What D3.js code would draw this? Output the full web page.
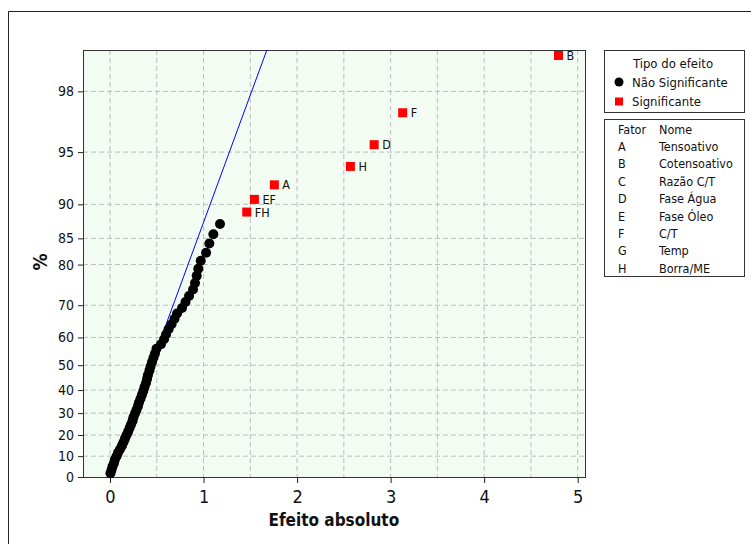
<!DOCTYPE html>
<html>
<head>
<meta charset="utf-8">
<script src="https://cdn.jsdelivr.net/npm/d3@7"></script>
<style>
  body { margin: 0; background: #fff; }
  text { font-family: "DejaVu Sans Condensed", "DejaVu Sans", sans-serif; font-stretch: condensed; fill: #111; }
</style>
</head>
<body>
<div id="chart"></div>
<script>
// half-normal plot of effects (Minitab style)
// ==============================

// non significant effects: absolute effect and plotted percent
var nsEffect = [0.005, 0.016, 0.027, 0.043, 0.053, 0.070, 0.086, 0.107, 0.128, 0.144,
  0.160, 0.176, 0.193, 0.209, 0.225, 0.241, 0.251, 0.267, 0.283, 0.299,
  0.310, 0.326, 0.342, 0.356, 0.369, 0.385, 0.396, 0.406, 0.422, 0.433,
  0.449, 0.465, 0.481, 0.497, 0.545, 0.578, 0.599, 0.626, 0.658, 0.690,
  0.717, 0.770, 0.807, 0.845, 0.888, 0.909, 0.927, 0.944, 0.970, 1.027,
  1.062, 1.105, 1.176];
var nsPercent = [1.8, 3.4, 5.1, 6.7, 8.4, 10.0, 11.7, 13.3, 15.0, 16.6,
  18.3, 19.9, 21.5, 23.2, 24.8, 26.5, 28.1, 29.8, 31.4, 33.1,
  34.7, 36.3, 38.0, 39.6, 41.3, 42.9, 44.6, 46.2, 47.9, 49.5,
  51.2, 52.8, 54.4, 56.1, 57.7, 59.4, 61.0, 62.7, 64.3, 66.0,
  67.6, 69.2, 70.9, 72.5, 74.2, 75.8, 77.5, 79.1, 80.8, 82.4,
  84.1, 85.7, 87.3];

// significant effects
var sigLabels = ["FH", "EF", "A", "H", "D", "F", "B"];
var sigEffect = [1.462, 1.544, 1.757, 2.570, 2.824, 3.129, 4.795];
var sigPercent = [89.0, 90.6, 92.2, 93.9, 95.5, 97.2, 98.9];

// reference line slope (effect per half-normal score)
var lineSlope = 0.651;

var xTicks = [0, 1, 2, 3, 4, 5];
var xGrid = [0, 0.5, 1, 1.5, 2, 2.5, 3, 3.5, 4, 4.5, 5];
var yTicks = [0, 10, 20, 30, 40, 50, 60, 70, 80, 85, 90, 95, 98];

var factors = ["A", "B", "C", "D", "E", "F", "G", "H"];
var factorNames = ["Tensoativo", "Cotensoativo", "Razão C/T", "Fase Água", "Fase Óleo", "C/T", "Temp", "Borra/ME"];

// inverse normal cdf (Acklam)
function qnorm(p) {
  var a = [-3.969683028665376e+01, 2.209460984245205e+02, -2.759285104469687e+02, 1.383577518672690e+02, -3.066479806614716e+01, 2.506628277459239e+00];
  var b = [-5.447609879822406e+01, 1.615858368580409e+02, -1.556989798598866e+02, 6.680131188771972e+01, -1.328068155288572e+01];
  var c = [-7.784894002430293e-03, -3.223964580411365e-01, -2.400758277161838e+00, -2.549732539343734e+00, 4.374664141464968e+00, 2.938163982698783e+00];
  var d = [7.784695709041462e-03, 3.224671290700398e-01, 2.445134137142996e+00, 3.754408661907416e+00];
  var q, r;
  if (p < 0.02425) {
    q = Math.sqrt(-2 * Math.log(p));
    return (((((c[0]*q+c[1])*q+c[2])*q+c[3])*q+c[4])*q+c[5]) / ((((d[0]*q+d[1])*q+d[2])*q+d[3])*q+1);
  } else if (p > 1 - 0.02425) {
    q = Math.sqrt(-2 * Math.log(1 - p));
    return -(((((c[0]*q+c[1])*q+c[2])*q+c[3])*q+c[4])*q+c[5]) / ((((d[0]*q+d[1])*q+d[2])*q+d[3])*q+1);
  }
  q = p - 0.5; r = q * q;
  return (((((a[0]*r+a[1])*r+a[2])*r+a[3])*r+a[4])*r+a[5])*q / (((((b[0]*r+b[1])*r+b[2])*r+b[3])*r+b[4])*r+1);
}
// percent -> half normal score
function hn(pct) { return pct <= 0 ? 0 : qnorm(0.5 + pct / 200); }

var svgWidth = 751, svgHeight = 544;
var plot = { left: 83, top: 50, right: 586, bottom: 477 };

var svg = d3.select("#chart").append("svg")
  .attr("width", svgWidth)
  .attr("height", svgHeight);

// graph window frame (only top and left edges visible)
svg.append("path")
  .attr("d", "M8.5," + svgHeight + "V11.5H" + svgWidth)
  .attr("fill", "none")
  .attr("stroke", "#222")
  .attr("stroke-width", 1);

var xScale = d3.scaleLinear()
  .domain([-0.2887, 5.089])
  .range([plot.left, plot.right]);

var zTop = hn(99);
var yScale = d3.scaleLinear()
  .domain([0, zTop])
  .range([plot.bottom, plot.top]);

// plot background
svg.append("rect")
  .attr("x", plot.left).attr("y", plot.top)
  .attr("width", plot.right - plot.left)
  .attr("height", plot.bottom - plot.top)
  .attr("fill", "#F3FCF3");

// grid lines
svg.append("g").selectAll("line")
  .data(xGrid)
  .enter().append("line")
  .attr("x1", d => xScale(d)).attr("x2", d => xScale(d))
  .attr("y1", plot.top).attr("y2", plot.bottom)
  .attr("stroke", "#BDBDBD").attr("stroke-dasharray", "5,3");

svg.append("g").selectAll("line")
  .data(yTicks.filter(d => d > 0))
  .enter().append("line")
  .attr("x1", plot.left).attr("x2", plot.right)
  .attr("y1", d => yScale(hn(d))).attr("y2", d => yScale(hn(d)))
  .attr("stroke", "#BDBDBD").attr("stroke-dasharray", "5,3");

// plot border
svg.append("rect")
  .attr("x", plot.left + 0.5).attr("y", plot.top + 0.5)
  .attr("width", plot.right - plot.left - 1)
  .attr("height", plot.bottom - plot.top)
  .attr("fill", "none")
  .attr("stroke", "#333");

// axes
var bottomAxis = d3.axisBottom(xScale).tickValues(xTicks).tickSize(6).tickSizeOuter(0).tickFormat(d3.format("d"));
var gx = svg.append("g")
  .attr("transform", `translate(0, ${plot.bottom})`)
  .call(bottomAxis);
gx.select(".domain").remove();
gx.selectAll("line").attr("stroke", "#222");
gx.selectAll("text").attr("font-size", "18px").attr("dy", "0.92em")
  .style("font-family", "'DejaVu Sans Condensed', 'DejaVu Sans', sans-serif").attr("fill", "#111");

var leftAxis = d3.axisLeft(yScale).tickValues(yTicks.map(hn)).tickSize(5).tickSizeOuter(0)
  .tickFormat((d, i) => yTicks[i]);
var gy = svg.append("g")
  .attr("transform", `translate(${plot.left}, 0)`)
  .call(leftAxis);
gy.select(".domain").remove();
gy.selectAll("line").attr("stroke", "#222");
gy.selectAll("text").attr("font-size", "14px").attr("x", -9)
  .style("font-family", "'DejaVu Sans Condensed', 'DejaVu Sans', sans-serif").attr("fill", "#111");

// reference line
svg.append("clipPath").attr("id", "clip")
  .append("rect").attr("x", plot.left).attr("y", plot.top)
  .attr("width", plot.right - plot.left).attr("height", plot.bottom - plot.top);

svg.append("line")
  .attr("clip-path", "url(#clip)")
  .attr("x1", xScale(0)).attr("y1", yScale(0))
  .attr("x2", xScale(lineSlope * zTop)).attr("y2", yScale(zTop))
  .attr("stroke", "#0000FF").attr("stroke-width", 1);

// non significant points
var nsData = nsEffect.map((e, i) => ({ effect: e, pct: nsPercent[i] }));
svg.append("g").selectAll("circle")
  .data(nsData)
  .enter().append("circle")
  .attr("cx", d => xScale(d.effect))
  .attr("cy", d => yScale(hn(d.pct)))
  .attr("r", 5)
  .attr("fill", "#000");

// significant points
var sigData = sigEffect.map((e, i) => ({ effect: e, pct: sigPercent[i], label: sigLabels[i] }));
var sigGroup = svg.append("g");
sigGroup.selectAll("rect")
  .data(sigData)
  .enter().append("rect")
  .attr("x", d => xScale(d.effect) - 4.5)
  .attr("y", d => yScale(hn(d.pct)) - 4.5)
  .attr("width", 9).attr("height", 9)
  .attr("fill", "#FF0000");
sigGroup.selectAll("text")
  .data(sigData)
  .enter().append("text")
  .attr("x", d => xScale(d.effect) + 8)
  .attr("y", d => yScale(hn(d.pct)))
  .attr("dy", "0.36em")
  .attr("font-size", "12.5px")
  .text(d => d.label);

// axis titles
svg.append("text")
  .attr("x", (xScale(0) + xScale(5)) / 2 - 10)
  .attr("y", 526)
  .attr("text-anchor", "middle")
  .attr("font-size", "17px")
  .attr("font-weight", "bold")
  .text("Efeito absoluto");

svg.append("text")
  .attr("transform", "translate(47, 262) rotate(-90)")
  .attr("text-anchor", "middle")
  .attr("font-size", "19px")
  .attr("font-weight", "bold")
  .text("%");

// legend 1: effect type
var leg1 = svg.append("g");
leg1.append("rect")
  .attr("x", 604.5).attr("y", 50.5).attr("width", 140).attr("height", 62)
  .attr("fill", "#fff").attr("stroke", "#333");
leg1.append("text").attr("x", 673).attr("y", 63).attr("dy", "0.36em")
  .attr("text-anchor", "middle").attr("font-size", "13px").text("Tipo do efeito");
leg1.append("circle").attr("cx", 619).attr("cy", 82).attr("r", 4.5).attr("fill", "#000");
leg1.append("text").attr("x", 632).attr("y", 82).attr("dy", "0.36em")
  .attr("font-size", "13px").text("Não Significante");
leg1.append("rect").attr("x", 615).attr("y", 97.5).attr("width", 8).attr("height", 8).attr("fill", "#FF0000");
leg1.append("text").attr("x", 632).attr("y", 101.5).attr("dy", "0.36em")
  .attr("font-size", "13px").text("Significante");

// legend 2: factor names
var leg2 = svg.append("g");
leg2.append("rect")
  .attr("x", 604.5).attr("y", 119.5).attr("width", 140).attr("height", 157)
  .attr("fill", "#fff").attr("stroke", "#333");
leg2.append("text").attr("x", 618).attr("y", 129).attr("dy", "0.36em")
  .attr("font-size", "12.5px").text("Fator");
leg2.append("text").attr("x", 659).attr("y", 129).attr("dy", "0.36em")
  .attr("font-size", "12.5px").text("Nome");
leg2.selectAll(".fl")
  .data(factors)
  .enter().append("text")
  .attr("class", "fl")
  .attr("x", 618)
  .attr("y", (d, i) => 146.5 + i * 17.4)
  .attr("dy", "0.36em")
  .attr("font-size", "12.5px")
  .text(d => d);
leg2.selectAll(".fn")
  .data(factorNames)
  .enter().append("text")
  .attr("class", "fn")
  .attr("x", 659)
  .attr("y", (d, i) => 146.5 + i * 17.4)
  .attr("dy", "0.36em")
  .attr("font-size", "12.5px")
  .text(d => d);
</script>
</body>
</html>
